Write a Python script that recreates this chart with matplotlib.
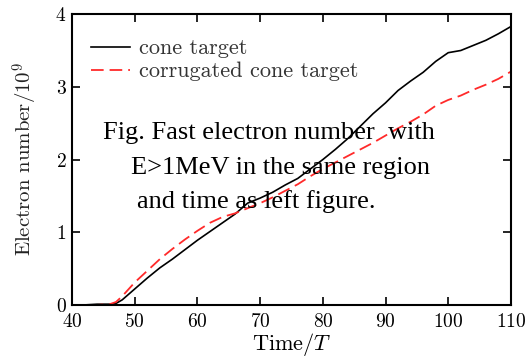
import numpy as np
import matplotlib
matplotlib.use("Agg")
import matplotlib.pyplot as plt

plt.rcParams['font.family'] = 'cmr10'
plt.rcParams['mathtext.fontset'] = 'cm'
plt.rcParams['axes.formatter.use_mathtext'] = True

# time in units of T
t = [40, 42, 44, 46, 47, 48, 50, 52, 54, 56, 58, 60, 62, 64, 66, 68, 70, 72, 74,
     76, 78, 80, 82, 84, 86, 88, 90, 92, 94, 96, 98, 100, 102, 104, 106, 108, 110]
# electron number / 1e9
cone = [0, 0, 0.01, 0.01, 0.02, 0.07, 0.22, 0.37, 0.51, 0.63, 0.76, 0.89, 1.01,
        1.13, 1.25, 1.40, 1.47, 1.55, 1.65, 1.74, 1.87, 2.00, 2.14, 2.29, 2.46,
        2.63, 2.78, 2.95, 3.08, 3.20, 3.35, 3.47, 3.50, 3.57, 3.64, 3.73, 3.83]
corrugated = [0, 0, 0, 0.01, 0.04, 0.12, 0.31, 0.47, 0.63, 0.77, 0.90, 1.02, 1.13,
              1.21, 1.26, 1.33, 1.40, 1.48, 1.57, 1.66, 1.77, 1.87, 1.96, 2.05,
              2.14, 2.23, 2.33, 2.43, 2.52, 2.62, 2.74, 2.82, 2.88, 2.96, 3.03,
              3.11, 3.21]

fig = plt.figure(figsize=(5.3, 3.63), dpi=100)
ax = fig.add_axes([0.136, 0.160, 0.828, 0.801])

ax.plot(t, cone, color='black', lw=1.2, label='cone target')
ax.plot(t, corrugated, color='#ff2a2a', lw=1.3, dashes=(7, 3.3),
        label='corrugated cone target')

ax.set_xlim(40, 110)
ax.set_ylim(0, 4)
ax.set_xticks(range(40, 111, 10))
ax.set_yticks(range(0, 5))
ax.tick_params(direction='in', length=6, width=1.2, top=True, right=True,
               labelsize=14)
ax.tick_params(axis='x', pad=6)
ax.tick_params(axis='y', pad=4)
for s in ax.spines.values():
    s.set_linewidth(1.5)

ax.set_xlabel('Time/$T$', fontsize=16, labelpad=0)
ax.set_ylabel('Electron number/$10^9$', fontsize=15, labelpad=11, color='#222222')

leg = ax.legend(loc='upper left', bbox_to_anchor=(0.043, 0.915), frameon=False,
                fontsize=16, handlelength=1.75, handletextpad=0.42,
                borderpad=0, borderaxespad=0, labelspacing=0.15)
for txt in leg.get_texts():
    txt.set_color('#333333')

note_font = dict(family='Liberation Serif', fontsize=19, color='black')
fig.text(103 / 530, 1 - 139 / 363, 'Fig. Fast electron number  with', **note_font)
fig.text(131 / 530, 1 - 174 / 363, 'E>1MeV in the same region', **note_font)
fig.text(137 / 530, 1 - 208 / 363, 'and time as left figure.', **note_font)

fig.savefig('out.png', dpi=100)
